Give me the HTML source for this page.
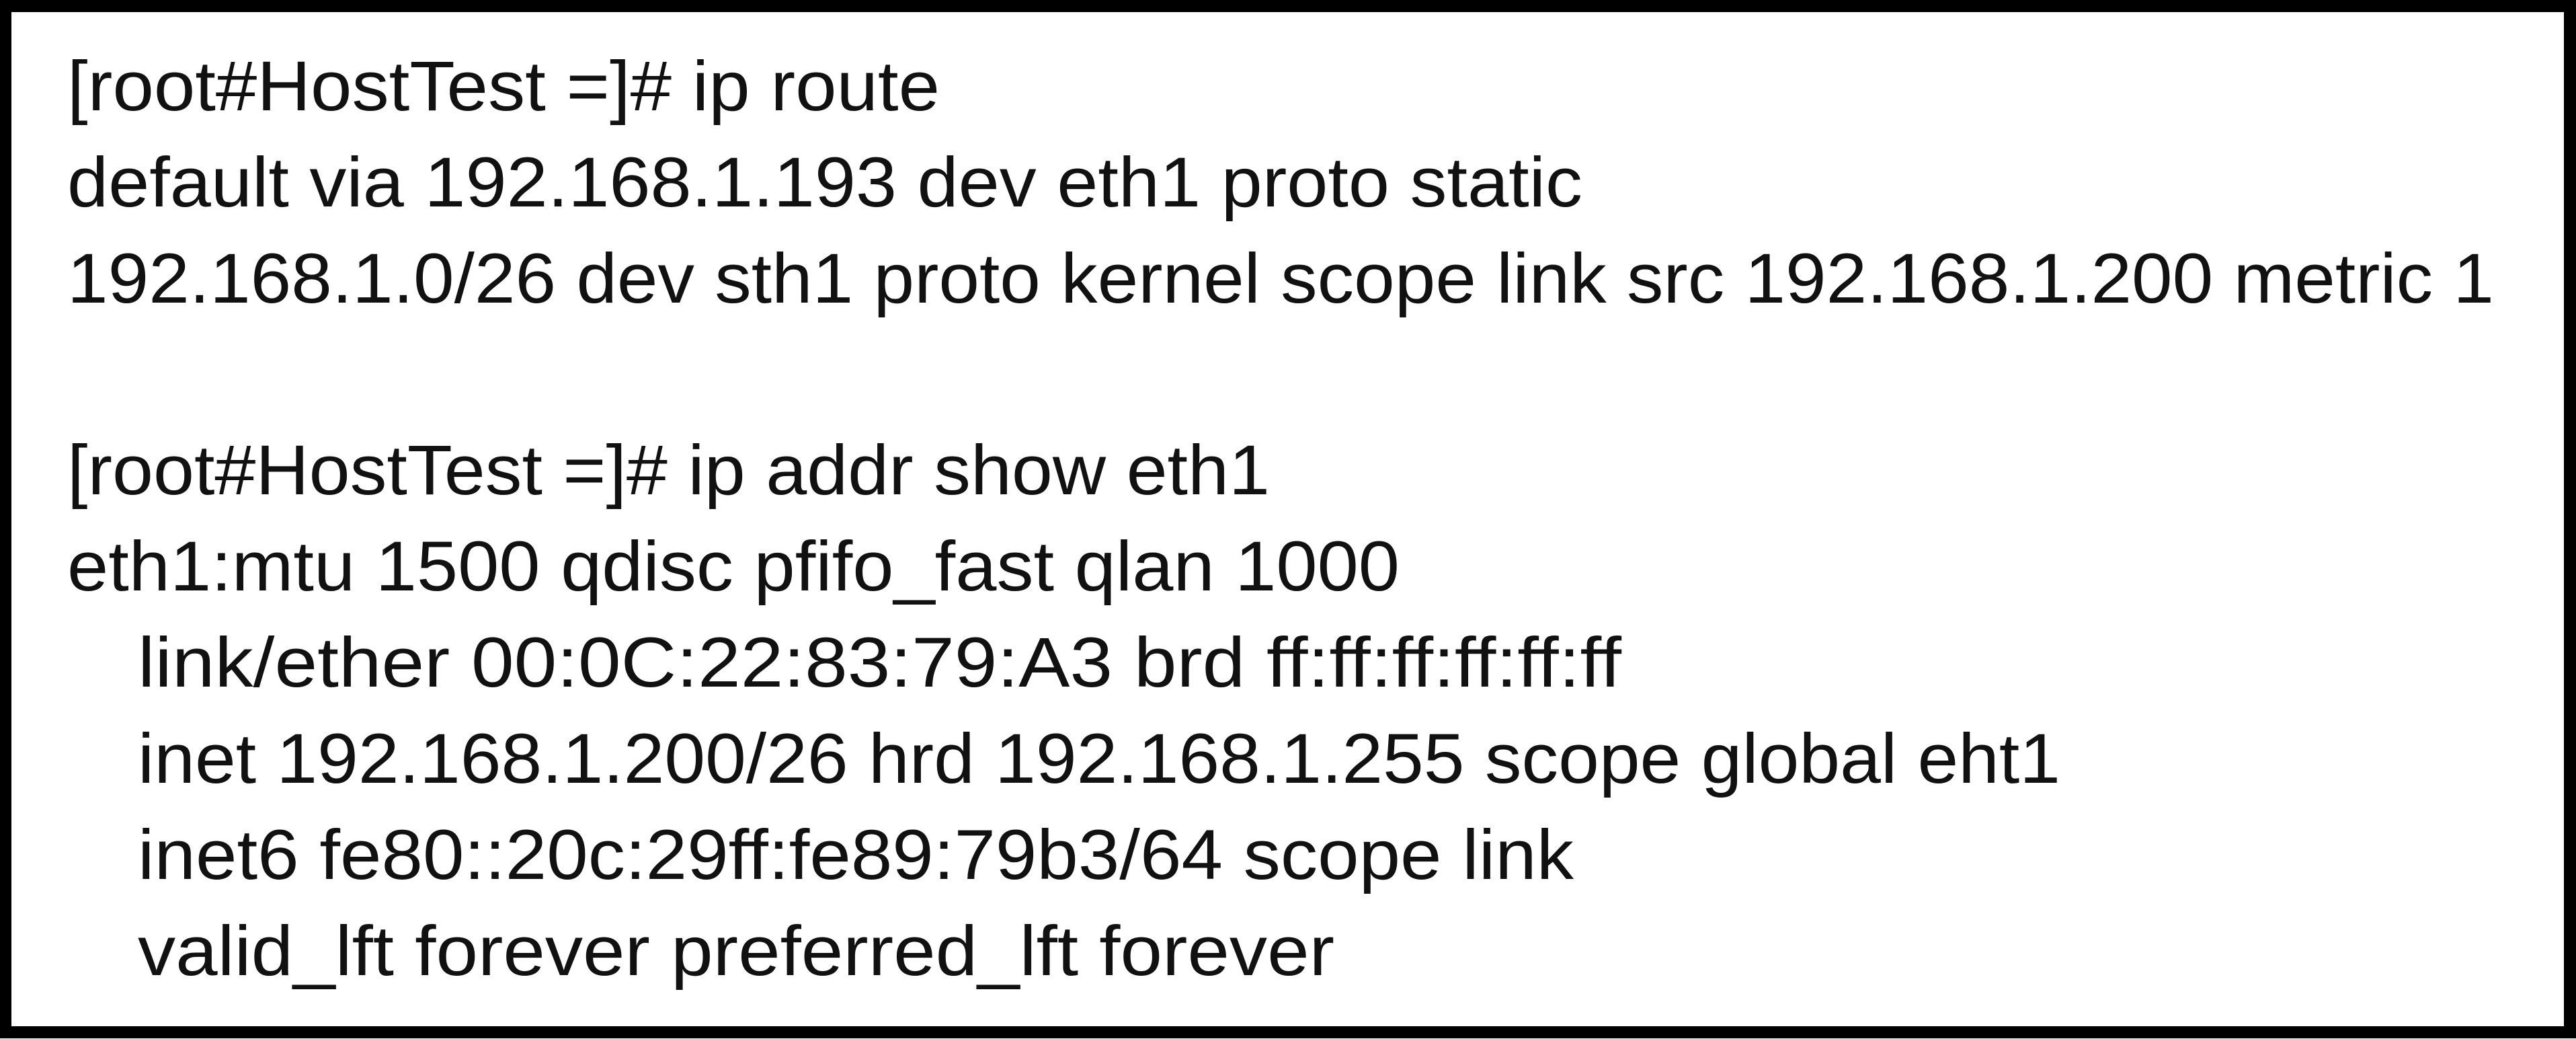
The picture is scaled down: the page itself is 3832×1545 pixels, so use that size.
<!DOCTYPE html>
<html><head><meta charset="utf-8"><style>
html,body{margin:0;padding:0;background:#fff;width:3832px;height:1545px;overflow:hidden}
svg{display:block}
text{font-family:"Liberation Sans",sans-serif;font-size:105px;fill:#111}
</style></head><body>
<svg width="3832" height="1545" xmlns="http://www.w3.org/2000/svg">
<rect x="0" y="0" width="3832" height="1545" fill="#fff"/>
<rect x="8" y="9" width="3815" height="1526" fill="none" stroke="#000" stroke-width="18"/>
<text x="100" y="164" textLength="1298" lengthAdjust="spacingAndGlyphs">[root#HostTest =]# ip route</text>
<text x="100" y="307" textLength="2254" lengthAdjust="spacingAndGlyphs">default via 192.168.1.193 dev eth1 proto static</text>
<text x="100" y="450" textLength="3610" lengthAdjust="spacingAndGlyphs">192.168.1.0/26 dev sth1 proto kernel scope link src 192.168.1.200 metric 1</text>
<text x="100" y="735" textLength="1789" lengthAdjust="spacingAndGlyphs">[root#HostTest =]# ip addr show eth1</text>
<text x="100" y="878" textLength="1982" lengthAdjust="spacingAndGlyphs">eth1:mtu 1500 qdisc pfifo_fast qlan 1000</text>
<text x="205" y="1021" textLength="2207" lengthAdjust="spacingAndGlyphs">link/ether 00:0C:22:83:79:A3 brd ff:ff:ff:ff:ff:ff</text>
<text x="205" y="1164" textLength="2860" lengthAdjust="spacingAndGlyphs">inet 192.168.1.200/26 hrd 192.168.1.255 scope global eht1</text>
<text x="205" y="1307" textLength="2136" lengthAdjust="spacingAndGlyphs">inet6 fe80::20c:29ff:fe89:79b3/64 scope link</text>
<text x="205" y="1450" textLength="1780" lengthAdjust="spacingAndGlyphs">valid_lft forever preferred_lft forever</text>
</svg>
</body></html>
